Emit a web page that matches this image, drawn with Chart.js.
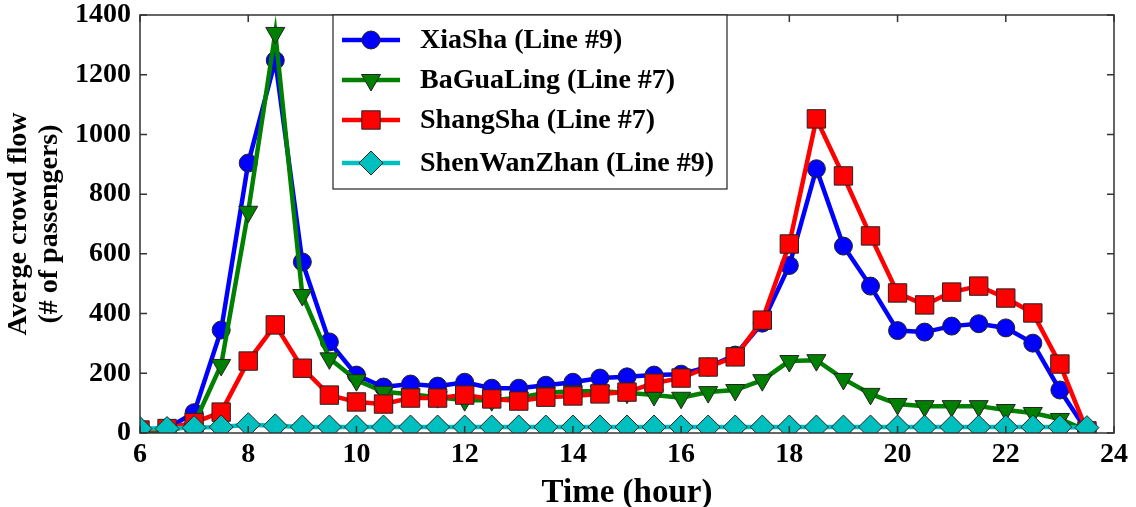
<!DOCTYPE html>
<html lang="en">
<head>
    <meta charset="UTF-8">
    <title>Average crowd flow</title>
    <script src="https://cdn.jsdelivr.net/npm/chart.js"></script>
    <style>
        body { margin: 0; background: #fff; }
        #wrap { width: 1136px; height: 507px; }
    </style>
</head>
<body>
<div id="wrap"><canvas id="flowChart" width="1136" height="507"></canvas></div>
<script>
    // hours of the day (every half hour)
    const hours = [6, 6.5, 7, 7.5, 8, 8.5, 9, 9.5, 10, 10.5, 11, 11.5, 12, 12.5, 13, 13.5, 14, 14.5,
                   15, 15.5, 16, 16.5, 17, 17.5, 18, 18.5, 19, 19.5, 20, 20.5, 21, 21.5, 22, 22.5, 23, 23.5];

    const xiaSha = [10, 15, 68, 345, 904, 1248, 573, 305, 194, 154, 164, 157, 170, 150, 150, 160, 170, 184,
                    188, 194, 197, 221, 261, 368, 561, 885, 626, 492, 343, 338, 358, 366, 352, 301, 144, 7];
    const baGuaLing = [5, 5, 30, 228, 741, 1340, 462, 250, 177, 138, 130, 120, 110, 110, 118, 135, 140, 140,
                       135, 127, 118, 137, 144, 177, 241, 244, 181, 131, 97, 90, 90, 90, 77, 67, 47, 7];
    const shangSha = [10, 15, 35, 70, 241, 362, 217, 127, 104, 97, 117, 117, 127, 114, 107, 120, 124, 131,
                      137, 167, 184, 221, 255, 378, 633, 1052, 861, 660, 469, 429, 472, 492, 452, 402, 231, 7];
    const shenWanZhan = [15, 15, 18, 20, 28, 24, 20, 20, 20, 20, 20, 20, 20, 20, 20, 20, 20, 20,
                         20, 20, 20, 20, 20, 20, 20, 20, 20, 20, 20, 20, 20, 20, 20, 20, 20, 18];

    const seriesNames = ['XiaSha (Line #9)', 'BaGuaLing (Line #7)', 'ShangSha (Line #7)', 'ShenWanZhan (Line #9)'];
    const xTicks = [6, 8, 10, 12, 14, 16, 18, 20, 22, 24];
    const yTicks = [0, 200, 400, 600, 800, 1000, 1200, 1400];

    const FONT = "'Liberation Serif', 'DejaVu Serif', serif";

    function toPoints(values) {
        return hours.map((h, i) => ({ x: h, y: values[i] }));
    }

    const datasets = [
        { label: seriesNames[0], data: toPoints(xiaSha), borderColor: '#0000ff', backgroundColor: '#0000ff',
          pointStyle: 'circle', pointRadius: 9, order: 3 },
        { label: seriesNames[1], data: toPoints(baGuaLing), borderColor: '#008000', backgroundColor: '#008000',
          pointStyle: 'triangle', pointRotation: 180, pointRadius: 11, order: 2 },
        { label: seriesNames[2], data: toPoints(shangSha), borderColor: '#ff0000', backgroundColor: '#ff0000',
          pointStyle: 'rect', pointRadius: 13, order: 1 },
        { label: seriesNames[3], data: toPoints(shenWanZhan), borderColor: '#00bfbf', backgroundColor: '#00bfbf',
          pointStyle: 'rectRot', pointRadius: 12, order: 0 }
    ];
    datasets.forEach(d => {
        d.borderWidth = 4.5;
        d.pointBorderColor = '#222';
        d.pointBorderWidth = 1;
        d.pointBackgroundColor = d.backgroundColor;
        d.pointHoverRadius = d.pointRadius;
        d.tension = 0;
        d.fill = false;
    });

    // matplotlib-like frame with inward ticks and a legend box inside the axes
    const framePlugin = {
        id: 'frame',
        afterDatasetsDraw(chart) {
            const ctx = chart.ctx;
            const a = chart.chartArea;
            const xs = chart.scales.x, ys = chart.scales.y;
            const tl = 7;
            ctx.save();
            ctx.strokeStyle = '#333';
            ctx.lineWidth = 1.5;
            ctx.beginPath();
            xTicks.forEach(v => {
                const px = xs.getPixelForValue(v);
                ctx.moveTo(px, a.bottom); ctx.lineTo(px, a.bottom - tl);
                ctx.moveTo(px, a.top); ctx.lineTo(px, a.top + tl);
            });
            yTicks.forEach(v => {
                const py = ys.getPixelForValue(v);
                ctx.moveTo(a.left, py); ctx.lineTo(a.left + tl, py);
                ctx.moveTo(a.right, py); ctx.lineTo(a.right - tl, py);
            });
            ctx.stroke();
            ctx.strokeRect(a.left, a.top, a.right - a.left, a.bottom - a.top);

            // legend
            const lx = a.left + 193, ly = a.top, lw = 394, lh = 174;
            ctx.fillStyle = '#fff';
            ctx.fillRect(lx, ly, lw, lh);
            ctx.strokeStyle = '#222';
            ctx.lineWidth = 1.2;
            ctx.strokeRect(lx, ly, lw, lh);
            const rows = [25, 65, 105, 148];
            chart.data.datasets.forEach((d, i) => {
                const cy = ly + rows[i];
                ctx.strokeStyle = d.borderColor;
                ctx.lineWidth = 4.5;
                ctx.beginPath();
                ctx.moveTo(lx + 9, cy); ctx.lineTo(lx + 67, cy);
                ctx.stroke();
                ctx.fillStyle = d.backgroundColor;
                ctx.strokeStyle = '#222';
                ctx.lineWidth = 1;
                Chart.helpers.drawPoint(ctx, {
                    pointStyle: d.pointStyle, rotation: d.pointRotation || 0,
                    radius: d.pointRadius, borderWidth: 1
                }, lx + 38, cy);
                ctx.fillStyle = '#000';
                ctx.font = 'bold 28px ' + FONT;
                ctx.textBaseline = 'middle';
                ctx.textAlign = 'left';
                ctx.fillText(d.label, lx + 87, cy + 1);
            });
            ctx.restore();
        }
    };

    new Chart(document.getElementById('flowChart').getContext('2d'), {
        type: 'line',
        data: { datasets: datasets },
        options: {
            responsive: false,
            animation: false,
            layout: { padding: { left: 0, top: 15, right: 22, bottom: 0 } },
            plugins: { legend: { display: false }, tooltip: { enabled: false } },
            scales: {
                x: {
                    type: 'linear', min: 6, max: 24,
                    grid: { display: false, drawTicks: false },
                    border: { display: false },
                    afterBuildTicks: s => { s.ticks = xTicks.map(v => ({ value: v })); },
                    afterFit: s => { s.height = 74; s.paddingLeft = 0; s.paddingRight = 0; },
                    ticks: { color: '#000', padding: 5, maxRotation: 0,
                             callback: v => String(v),
                             font: { family: FONT, weight: 'bold', size: 28 } },
                    title: { display: true, text: 'Time (hour)', color: '#000', padding: { top: 0, bottom: -6 },
                             font: { family: FONT, weight: 'bold', size: 33 } }
                },
                y: {
                    min: 0, max: 1400,
                    grid: { display: false, drawTicks: false },
                    border: { display: false },
                    afterBuildTicks: s => { s.ticks = yTicks.map(v => ({ value: v })); },
                    afterFit: s => { s.width = 140; s.paddingTop = 0; s.paddingBottom = 0; },
                    ticks: { color: '#000', padding: 9,
                             callback: v => String(v),
                             font: { family: FONT, weight: 'bold', size: 28 } },
                    title: { display: true, text: ['Averge crowd flow', '(# of passengers)'], color: '#000',
                             padding: { top: 4, bottom: 0 },
                             font: { family: FONT, weight: 'bold', size: 28, lineHeight: 1.08 } }
                }
            }
        },
        plugins: [framePlugin]
    });
</script>
</body>
</html>
